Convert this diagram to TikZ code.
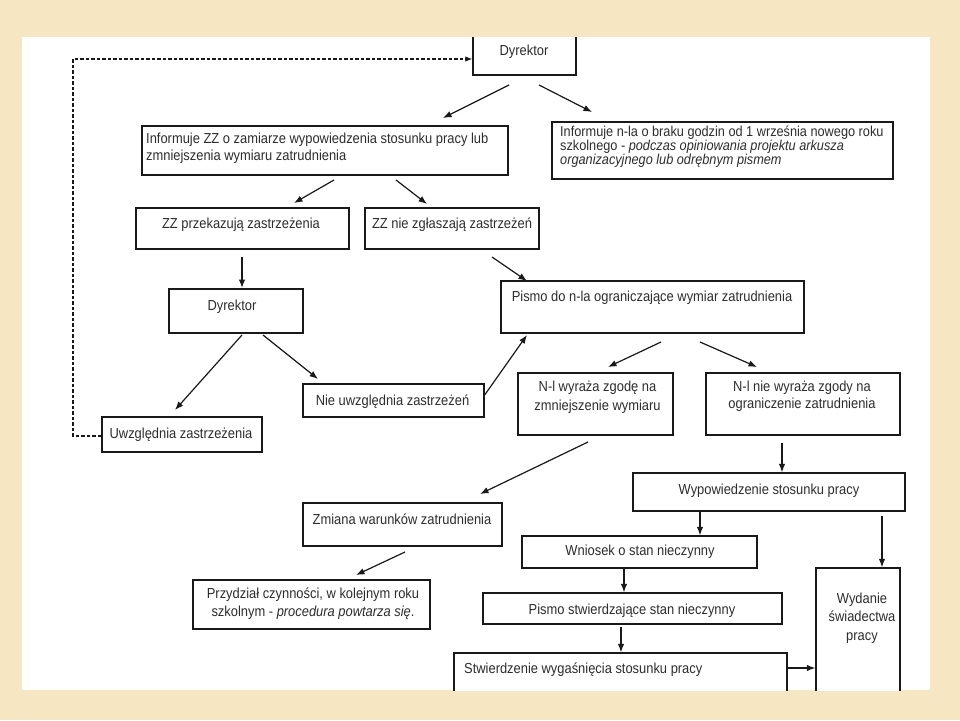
\documentclass[tikz,border=0pt]{standalone}
\usepackage{fontspec}
\setmainfont{Liberation Sans}[FakeStretch=0.89]
\usetikzlibrary{arrows.meta}
\definecolor{beige}{RGB}{246,231,194}
\definecolor{txtc}{RGB}{45,45,45}
\definecolor{linec}{RGB}{25,25,25}
\begin{document}
\begin{tikzpicture}[x=1pt,y=-1pt,
  box/.style={draw=linec, line width=1.3pt, fill=white, inner sep=0pt, anchor=center},
  txt/.style={text=txtc, font=\fontsize{14.5}{17}\selectfont, inner sep=0pt},
  arr/.style={draw=linec, line width=1.2pt, -{Latex[length=8.5pt,width=6.5pt]}},
  loopline/.style={draw=linec, line width=1.2pt, dash pattern=on 3.5pt off 2pt, -{Latex[length=7pt,width=5.5pt]}}
]
\fill[beige] (0,0) rectangle (960,720);
\fill[white] (22,37) rectangle (930,690);
\begin{scope}
\clip (22,37) rectangle (930,690);
% boxes
\node[box, minimum width=103pt, minimum height=45pt] (dyr1) at (524.5,52.5) {};
\node[box, minimum width=366pt, minimum height=49pt] (izz) at (325,150.5) {};
\node[box, minimum width=341pt, minimum height=57pt] (inl) at (722.5,150.5) {};
\node[box, minimum width=213pt, minimum height=41pt] (zzp) at (242.5,228.5) {};
\node[box, minimum width=174pt, minimum height=41pt] (zzn) at (452,228.5) {};
\node[box, minimum width=134pt, minimum height=44pt] (dyr2) at (236,311) {};
\node[box, minimum width=160pt, minimum height=35pt] (uw) at (182,434.5) {};
\node[box, minimum width=181pt, minimum height=33pt] (nuw) at (393.5,400.5) {};
\node[box, minimum width=303pt, minimum height=52pt] (pis) at (652.5,307) {};
\node[box, minimum width=155pt, minimum height=62pt] (nlw) at (595.5,404) {};
\node[box, minimum width=194pt, minimum height=62pt] (nln) at (803,404) {};
\node[box, minimum width=272pt, minimum height=38pt] (wyp) at (769,492) {};
\node[box, minimum width=199pt, minimum height=43pt] (zmw) at (402.5,524.5) {};
\node[box, minimum width=237pt, minimum height=49pt] (prz) at (311.5,604.5) {};
\node[box, minimum width=235pt, minimum height=32pt] (wni) at (639.5,552) {};
\node[box, minimum width=299pt, minimum height=31pt] (pst) at (632.5,608.5) {};
\node[box, minimum width=333pt, minimum height=57pt] (stw) at (620.5,681.5) {};
\node[box, minimum width=84pt, minimum height=142pt] (wyd) at (858,639) {};
% texts
\node[txt, anchor=base] (dyr1t) at (524,55) {Dyrektor};
\node[txt, anchor=west, align=left] (izzt) at (146,148) {Informuje ZZ o zamiarze wypowiedzenia stosunku pracy lub\\zmniejszenia wymiaru zatrudnienia};
\node[txt, anchor=west, align=left, font=\fontsize{14.3}{13.8}\selectfont] (inlt) at (560,146.5) {Informuje n-la o braku godzin od 1 września nowego roku\\szkolnego - \textit{podczas opiniowania projektu arkusza}\\\textit{organizacyjnego lub odrębnym pismem}};
\node[txt, anchor=base] (zzpt) at (241,228) {ZZ przekazują zastrzeżenia};
\node[txt, anchor=base] (zznt) at (452,228) {ZZ nie zgłaszają zastrzeżeń};
\node[txt, anchor=base] (dyr2t) at (232,310) {Dyrektor};
\node[txt, anchor=base] (uwt) at (181,438) {Uwzględnia zastrzeżenia};
\node[txt, anchor=base] (nuwt) at (392.5,405.5) {Nie uwzględnia zastrzeżeń};
\node[txt, anchor=base] (pist) at (652,301) {Pismo do n-la ograniczające wymiar zatrudnienia};
\node[txt, align=center, font=\fontsize{14.5}{19}\selectfont] (nlwt) at (597.5,397) {N-l wyraża zgodę na\\zmniejszenie wymiaru};
\node[txt, align=center, font=\fontsize{14.5}{17.5}\selectfont] (nlnt) at (802,396) {N-l nie wyraża zgody na\\ograniczenie zatrudnienia};
\node[txt, anchor=base] (wypt) at (769,494) {Wypowiedzenie stosunku pracy};
\node[txt, anchor=base] (zmwt) at (402,524) {Zmiana warunków zatrudnienia};
\node[txt, align=center, font=\fontsize{14.5}{18}\selectfont] (przt) at (313,603.5) {Przydział czynności, w kolejnym roku\\szkolnym - \textit{procedura powtarza się}.};
\node[txt, anchor=base] (wnit) at (640,555) {Wniosek o stan nieczynny};
\node[txt, anchor=base] (pstt) at (632,614) {Pismo stwierdzające stan nieczynny};
\node[txt, anchor=base west] (stwt) at (464,673) {Stwierdzenie wygaśnięcia stosunku pracy};
\node[txt, align=center, font=\fontsize{14.5}{18.5}\selectfont] (wydt) at (862,618) {Wydanie\\świadectwa\\pracy};
% arrow end points
\coordinate (a1s) at (509,85);   \coordinate (a1e) at (443,118);
\coordinate (a2s) at (539,85);   \coordinate (a2e) at (592,112);
\coordinate (a3s) at (334,180);  \coordinate (a3e) at (294,203);
\coordinate (a4s) at (396,180);  \coordinate (a4e) at (427,204);
\coordinate (a5s) at (242,257);  \coordinate (a5e) at (242,288);
\coordinate (a6s) at (492,257);  \coordinate (a6e) at (527,281);
\coordinate (a7s) at (242,335);  \coordinate (a7e) at (175,410);
\coordinate (a8s) at (263,335);  \coordinate (a8e) at (318,379);
\coordinate (a9e) at (527,335);
\coordinate (a10s) at (661,342); \coordinate (a10e) at (608,367);
\coordinate (a11s) at (700,342); \coordinate (a11e) at (757,367);
\coordinate (a12s) at (588,442); \coordinate (a12e) at (480,494);
\coordinate (a13s) at (782,443); 
\coordinate (a14s) at (405,552); \coordinate (a14e) at (356,575);
\coordinate (a15s) at (700,511);
\coordinate (a16s) at (882,516);
\coordinate (a17s) at (624,568);
\coordinate (a18s) at (621,627);
\coordinate (a19s) at (787,668);
\coordinate (loopL) at (73,59);
% connectors
\draw[arr] (a1s) -- (a1e);
\draw[arr] (a2s) -- (a2e);
\draw[arr] (a3s) -- (a3e);
\draw[arr] (a4s) -- (a4e);
\draw[arr] (a5s) -- (a5e);
\draw[arr] (a6s) -- (a6e);
\draw[arr] (a7s) -- (a7e);
\draw[arr] (a8s) -- (a8e);
\draw[arr] ([yshift=5.5pt]nuw.east) -- (a9e);
\draw[arr] (a10s) -- (a10e);
\draw[arr] (a11s) -- (a11e);
\draw[arr] (a12s) -- (a12e);
\draw[arr] (a13s) -- (a13s |- wyp.north);
\draw[arr] (a14s) -- (a14e);
\draw[arr] (a15s) -- (a15s |- wni.north);
\draw[arr] (a16s) -- (a16s |- wyd.north);
\draw[arr] (a17s) -- (a17s |- pst.north);
\draw[arr] (a18s) -- (a18s |- stw.north);
\draw[arr] (a19s) -- (a19s -| wyd.west);
\draw[loopline] ([yshift=-1.5pt]uw.west) -| (loopL) -- (loopL -| dyr1.west);
\end{scope}
\end{tikzpicture}
\end{document}
